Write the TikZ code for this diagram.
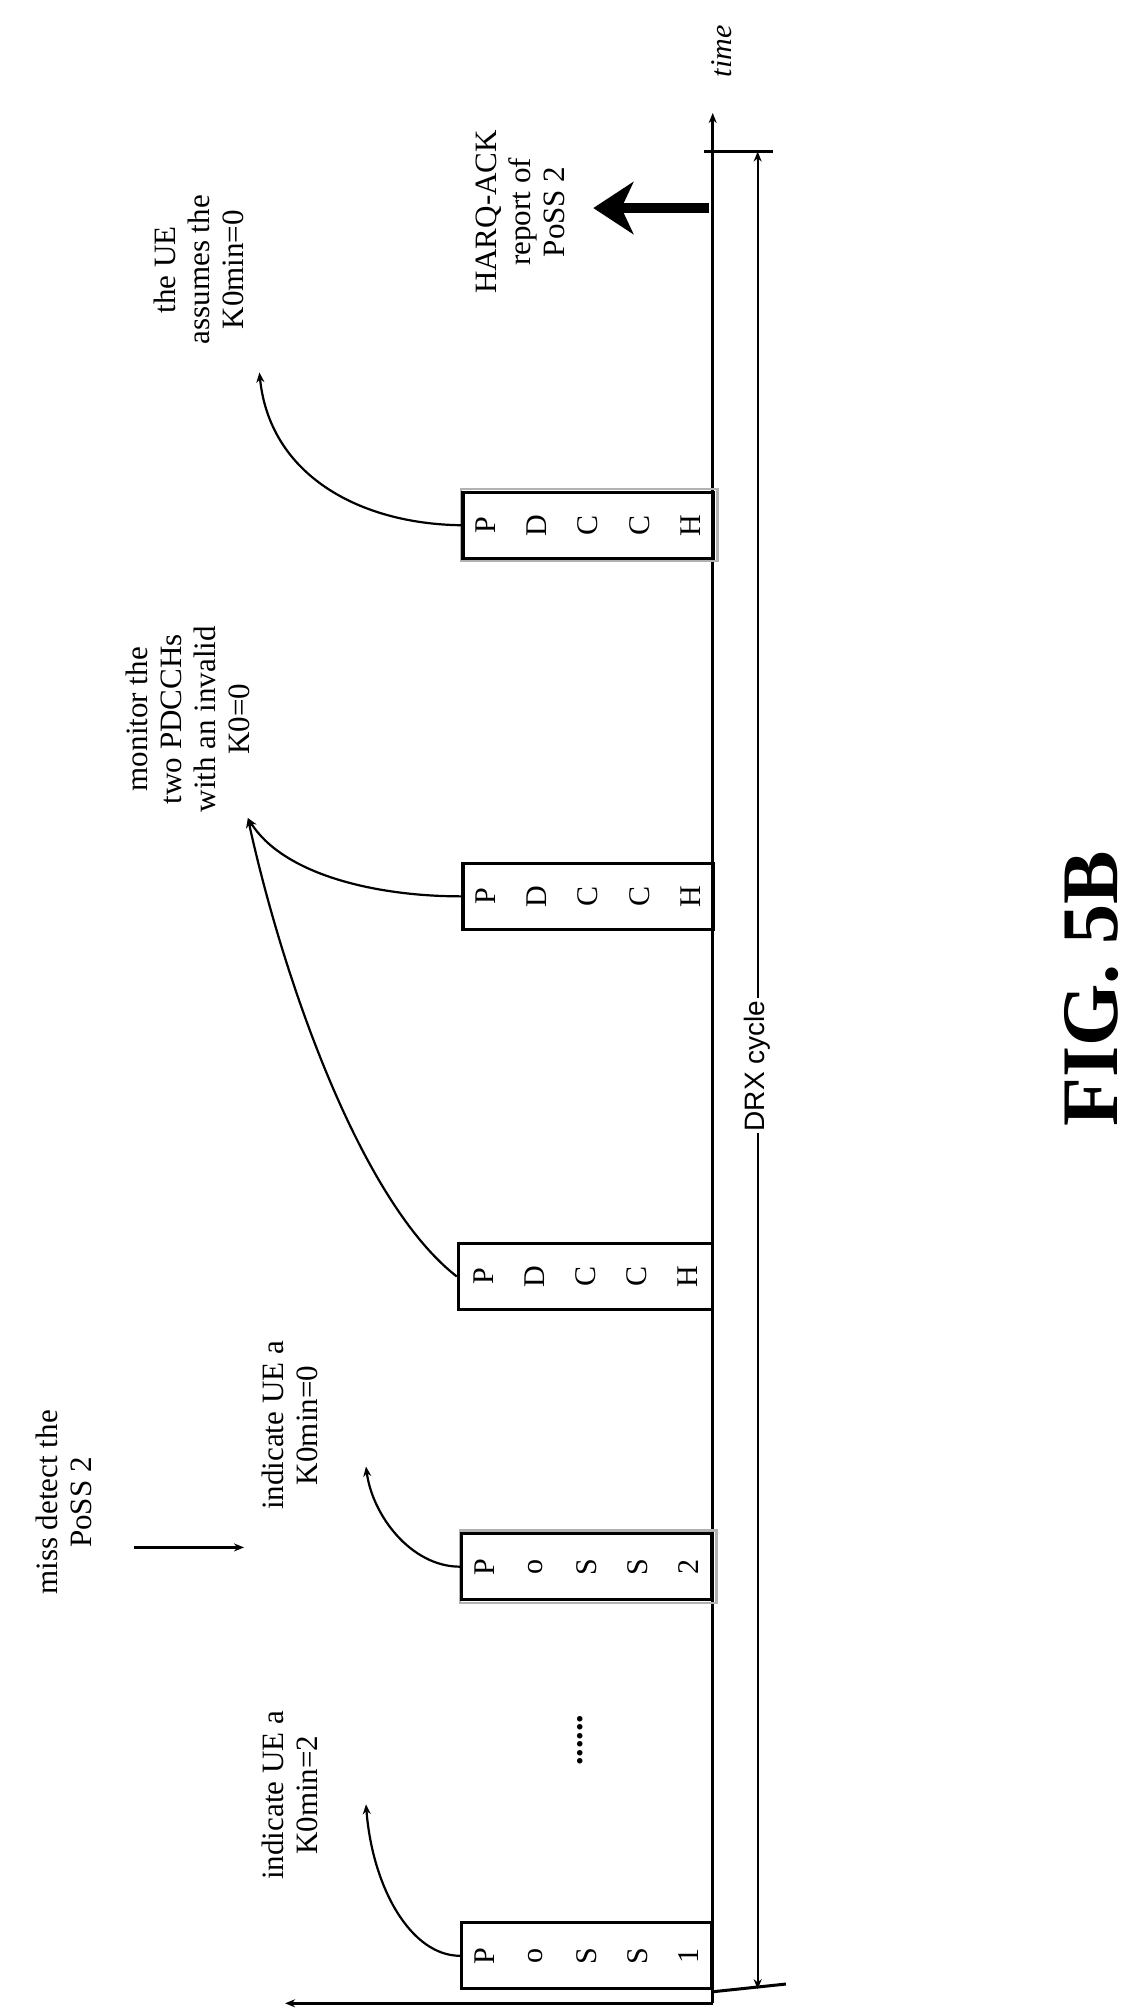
\documentclass[tikz,border=0pt]{standalone}
\usepackage{fontspec}
\setmainfont{Liberation Serif}
\setsansfont{Liberation Sans}
\usetikzlibrary{arrows.meta}
\begin{document}
\begin{tikzpicture}[x=0.641pt,y=-0.641pt,
  lbl/.style={rotate=90,align=center,font=\fontsize{15.5}{17}\selectfont,inner sep=0pt},
  chbox/.style={draw,line width=1.6pt,minimum width=125pt,minimum height=33pt,inner sep=0pt},
  shbox/.style={draw=gray!60,line width=1.2pt,minimum width=128pt,minimum height=36pt,inner sep=0pt},
  ltr/.style={rotate=90,font=\fontsize{15}{16}\selectfont,inner sep=0pt},
  curv/.style={line width=1.1pt,-{Stealth[length=5pt,width=4pt]}},
  thin/.style={line width=1pt}]
\useasboundingbox (0,0) rectangle (890,1566);
% axis
\coordinate (axtop) at (555,88);
\coordinate (axbot) at (555,1560);
\coordinate (axleft) at (222,1560);
\draw[line width=1.3pt,-{Stealth[length=5pt,width=4pt]}] (axbot) -- (axtop);
\draw[line width=1.3pt,-{Stealth[length=5pt,width=4pt]}] (axbot) -- (axleft);
\node[lbl,font=\itshape\fontsize{15}{16}\selectfont] (time) at (562,40) {time};
% ticks
\coordinate (t1a) at (548,118); \coordinate (t1b) at (602,118);
\coordinate (t2a) at (555,1551); \coordinate (t2b) at (612,1545);
\draw[line width=1.5pt] (t1a) -- (t1b);
\draw[line width=1.5pt] (t2a) -- (t2b);
% DRX
\coordinate (d1) at (590,118); \coordinate (d2) at (590,1549);
\draw[thin,{Stealth[length=5pt,width=4pt]}-{Stealth[length=5pt,width=4pt]}] (d1) -- (d2);
\node[rotate=90,fill=white,font=\sffamily\fontsize{14}{15}\selectfont,inner sep=1pt] (drx) at (590,830) {DRX cycle};
% boxes
\node[shbox] (s2) at (458,1220) {};
\node[shbox] (s3) at (459,409) {};
\node[chbox] (b1) at (457,1523) {};
\node[chbox] (b2) at (457,1220) {};
\node[chbox,minimum width=127pt] (b3) at (456,994) {};
\node[chbox] (b4) at (458,698) {};
\node[chbox] (b5) at (458,409) {};
\foreach \b/\txt in {b1/{P,o,S,S,1},b2/{P,o,S,S,2},b3/{P,D,C,C,H},b4/{P,D,C,C,H},b5/{P,D,C,C,H}}{
  \foreach \l [count=\i] in \txt {
    \node[ltr] (\b-\i) at ([xshift={(\i-3)*25.5pt}]\b.center) {\l};
  }
}
% dots
\node[rotate=90,font=\bfseries\fontsize{17}{17}\selectfont,inner sep=0pt] (dots) at (452,1355) {......};
% labels
\node[lbl] (L1) at (226,1398) {indicate UE a\\K0min=2};
\node[lbl] (L2) at (226,1110) {indicate UE a\\K0min=0};
\node[lbl] (L3) at (50,1170) {miss detect the\\PoSS 2};
\node[lbl] (L4) at (146,560) {monitor the\\two PDCCHs\\with an invalid\\K0=0};
\node[lbl] (L5) at (155,210) {the UE\\assumes the\\K0min=0};
\node[lbl] (L6) at (405,165) {HARQ-ACK\\report of\\PoSS 2};
\node[rotate=90,font=\bfseries\fontsize{40}{42}\selectfont,inner sep=0pt] (fig) at (850,770) {FIG. 5B};
% connectors
\coordinate (e1) at (285,1405);
\coordinate (e2) at (285,1142);
\coordinate (e3) at (193,637);
\coordinate (e5) at (202,290);
\coordinate (m1) at (104,1205);
\coordinate (m2) at (190,1205);
\draw[curv] (b1.west) .. controls (320,1523) and (290,1470) .. (e1);
\draw[curv] (b2.west) .. controls (320,1220) and (290,1180) .. (e2);
\draw[curv] (b3.west) .. controls (280,935) and (220,760) .. (e3);
\draw[curv] (b4.west) .. controls (290,698) and (220,680) .. (e3);
\draw[curv] (b5.west) .. controls (280,408) and (210,370) .. (e5);
\draw[line width=1.3pt,-{Stealth[length=5pt,width=4pt]}] (m1) -- (m2);
\coordinate (h1) at (552,162); \coordinate (h2) at (462,162);
\draw[line width=5pt,-{Stealth[length=20pt,width=26pt,inset=6pt]}] (h1) -- (h2);
\end{tikzpicture}
\end{document}
